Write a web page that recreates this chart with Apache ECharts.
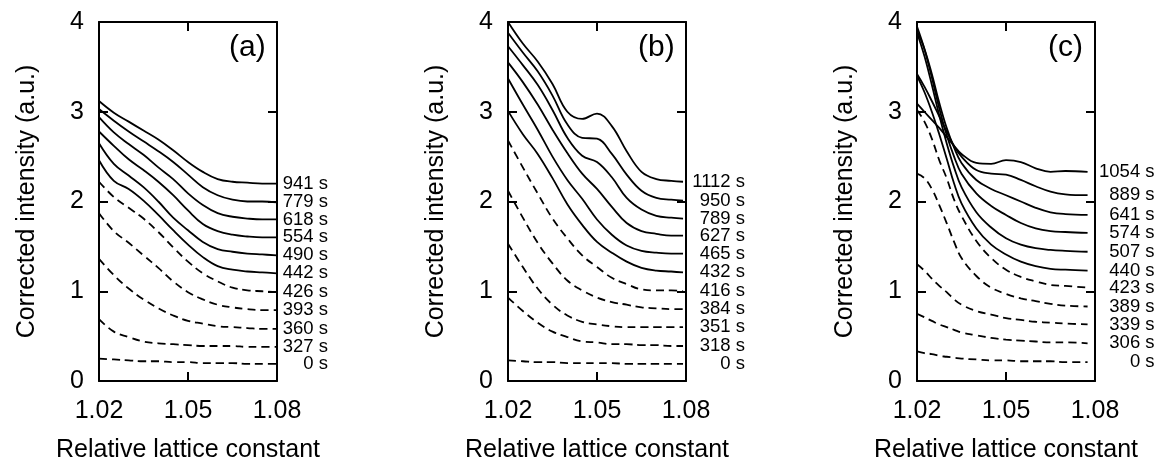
<!DOCTYPE html>
<html>
<head>
<meta charset="utf-8">
<script src="https://cdn.jsdelivr.net/npm/echarts@6/dist/echarts.min.js"></script>
<style>html,body{margin:0;background:#fff}#main{width:1159px;height:460px}</style>
</head>
<body>
<div id="main"></div>
<script>
// x samples of each panel (relative lattice constant)
const xA=[1.020,1.025,1.030,1.035,1.040,1.045,1.050,1.055,1.060,1.065,1.070,1.075,1.080];
const xB=[1.020,1.025,1.030,1.035,1.040,1.045,1.050,1.055,1.060,1.065,1.070,1.075,1.079];
const xC=[1.020,1.0225,1.025,1.0275,1.030,1.0325,1.035,1.040,1.045,1.050,1.055,1.060,1.065,1.070,1.0775];

// labels of curves, top to bottom
const timesA=['941 s','779 s','618 s','554 s','490 s','442 s','426 s','393 s','360 s','327 s','0 s'];
const timesB=['1112 s','950 s','789 s','627 s','465 s','432 s','416 s','384 s','351 s','318 s','0 s'];
const timesC=['1054 s','889 s','641 s','574 s','507 s','440 s','423 s','389 s','339 s','306 s','0 s'];

// corrected intensity, one row per curve
const curvesA=[
  [3.12,2.99,2.89,2.79,2.69,2.57,2.44,2.33,2.25,2.22,2.21,2.20,2.20],
  [3.03,2.90,2.78,2.67,2.56,2.44,2.30,2.16,2.07,2.02,2.00,2.00,1.99],
  [2.94,2.77,2.64,2.52,2.38,2.25,2.09,1.96,1.87,1.83,1.81,1.80,1.80],
  [2.78,2.62,2.47,2.35,2.22,2.07,1.90,1.75,1.67,1.63,1.61,1.60,1.60],
  [2.65,2.42,2.29,2.16,2.00,1.82,1.68,1.55,1.47,1.44,1.42,1.41,1.40],
  [2.46,2.23,2.14,2.01,1.85,1.68,1.52,1.38,1.28,1.24,1.22,1.21,1.20],
  [2.22,2.05,1.93,1.81,1.66,1.49,1.33,1.20,1.11,1.04,1.01,1.00,0.99],
  [1.87,1.67,1.54,1.40,1.26,1.11,0.99,0.91,0.85,0.82,0.80,0.79,0.79],
  [1.36,1.18,1.03,0.91,0.81,0.73,0.67,0.64,0.61,0.60,0.59,0.58,0.58],
  [0.69,0.55,0.49,0.44,0.42,0.41,0.40,0.39,0.39,0.39,0.38,0.38,0.38],
  [0.25,0.24,0.23,0.22,0.22,0.21,0.21,0.20,0.20,0.20,0.19,0.19,0.19]
];
const curvesB=[
  [4.00,3.76,3.56,3.31,3.00,2.92,2.98,2.84,2.56,2.33,2.25,2.23,2.22],
  [3.88,3.66,3.45,3.18,2.86,2.71,2.70,2.53,2.30,2.12,2.04,2.02,2.01],
  [3.73,3.52,3.30,3.02,2.71,2.51,2.44,2.27,2.04,1.91,1.84,1.82,1.81],
  [3.55,3.33,3.08,2.80,2.54,2.31,2.14,1.94,1.76,1.67,1.64,1.62,1.62],
  [3.37,3.08,2.80,2.50,2.24,2.03,1.80,1.63,1.51,1.45,1.43,1.42,1.42],
  [3.01,2.75,2.53,2.26,1.97,1.74,1.55,1.43,1.33,1.26,1.23,1.22,1.21],
  [2.68,2.38,2.09,1.81,1.59,1.40,1.27,1.15,1.08,1.02,1.01,1.01,1.00],
  [2.12,1.82,1.54,1.31,1.12,1.01,0.93,0.88,0.85,0.82,0.81,0.80,0.80],
  [1.53,1.27,1.03,0.85,0.73,0.66,0.63,0.61,0.60,0.60,0.60,0.60,0.60],
  [0.93,0.78,0.65,0.55,0.49,0.44,0.43,0.41,0.41,0.40,0.40,0.39,0.39],
  [0.23,0.22,0.21,0.21,0.20,0.20,0.20,0.20,0.19,0.19,0.19,0.19,0.19]
];
const curvesC=[
  [3.09,3.00,2.91,2.82,2.72,2.62,2.53,2.43,2.42,2.46,2.44,2.37,2.33,2.34,2.33],
  [3.42,3.28,3.12,2.95,2.78,2.62,2.50,2.35,2.31,2.30,2.24,2.17,2.11,2.08,2.07],
  [3.90,3.70,3.42,3.10,2.82,2.60,2.43,2.24,2.14,2.07,2.00,1.93,1.88,1.86,1.85],
  [3.95,3.70,3.38,3.04,2.74,2.50,2.31,2.09,1.95,1.85,1.76,1.70,1.67,1.66,1.65],
  [3.88,3.62,3.30,2.96,2.65,2.38,2.16,1.88,1.71,1.59,1.52,1.48,1.46,1.45,1.44],
  [3.40,3.22,3.00,2.75,2.48,2.20,1.98,1.70,1.52,1.41,1.33,1.28,1.25,1.24,1.23],
  [3.02,2.89,2.70,2.46,2.26,2.02,1.84,1.56,1.37,1.24,1.16,1.11,1.07,1.06,1.04],
  [2.31,2.26,2.14,1.96,1.76,1.55,1.37,1.17,1.04,0.97,0.92,0.89,0.86,0.84,0.83],
  [1.30,1.23,1.14,1.06,0.99,0.91,0.85,0.78,0.74,0.70,0.68,0.66,0.65,0.64,0.63],
  [0.75,0.71,0.67,0.63,0.60,0.57,0.54,0.51,0.48,0.46,0.45,0.44,0.43,0.43,0.42],
  [0.33,0.31,0.30,0.28,0.27,0.26,0.25,0.24,0.23,0.23,0.22,0.22,0.22,0.21,0.21]
];

const FONT='"Liberation Sans", Arial, Helvetica, sans-serif';
const panels=[
  {x:xA,curves:curvesA,times:timesA,left:99,dist:51,tag:'(a)',tagLeft:229},
  {x:xB,curves:curvesB,times:timesB,left:508,dist:62,tag:'(b)',tagLeft:638},
  {x:xC,curves:curvesC,times:timesC,left:917,dist:67,tag:'(c)',tagLeft:1048}
];
const SOLID=6; // first six curves of each panel are solid

let chart=echarts.init(document.getElementById('main'));
let grid=[],xAxis=[],yAxis=[],series=[],title=[];
const black={color:'#000',width:2};

panels.forEach(function(p,i){
  // outerBoundsMode none: keep the grid where it is, labels may go near the edge
  grid.push({left:p.left,top:22,width:178,height:359,outerBoundsMode:'none'});
  title.push({text:p.tag,left:p.tagLeft,top:33,padding:0,
    textStyle:{fontSize:30,fontWeight:'normal',color:'#000',fontFamily:FONT}});
  // bottom and top frame
  xAxis.push({
    gridIndex:i,type:'value',min:1.02,max:1.08,interval:0.03,
    axisLine:{onZero:false,lineStyle:black},
    axisTick:{inside:true,length:9,lineStyle:black},
    axisLabel:{margin:18,fontSize:25,color:'#000',fontFamily:FONT,
      formatter:function(v){return v.toFixed(2);}},
    splitLine:{show:false},
    name:'Relative lattice constant',nameLocation:'middle',nameGap:57,
    nameTextStyle:{fontSize:25,color:'#000',fontFamily:FONT}
  });
  xAxis.push({
    gridIndex:i,type:'value',position:'top',min:1.02,max:1.08,interval:0.03,
    axisLine:{onZero:false,lineStyle:black},
    axisTick:{inside:true,length:9,lineStyle:black},
    axisLabel:{show:false},splitLine:{show:false}
  });
  // left and right frame
  yAxis.push({
    gridIndex:i,type:'value',min:0,max:4,interval:1,
    axisLine:{show:true,onZero:false,lineStyle:black},
    axisTick:{show:true,inside:true,length:9,lineStyle:black},
    axisLabel:{margin:15,fontSize:25,color:'#000',fontFamily:FONT},
    splitLine:{show:false},
    name:'Corrected intensity (a.u.)',nameLocation:'middle',nameGap:59,
    nameTextStyle:{fontSize:25,color:'#000',fontFamily:FONT}
  });
  yAxis.push({
    gridIndex:i,type:'value',position:'right',min:0,max:4,interval:1,
    axisLine:{show:true,onZero:false,lineStyle:black},
    axisTick:{show:true,inside:true,length:9,lineStyle:black},
    axisLabel:{show:false},splitLine:{show:false}
  });

  p.curves.forEach(function(vals,j){
    series.push({
      name:p.times[j],
      type:'line',
      xAxisIndex:2*i,
      yAxisIndex:2*i,
      data:p.x.map(function(xv,k){return [xv,vals[k]];}),
      smooth:0.4,
      symbol:'none',
      silent:true,
      lineStyle:{color:'#000',width:1.8,type:j<SOLID?'solid':[8,5]},
      endLabel:{
        show:true,
        formatter:function(param){return param.seriesName;},
        align:'right',
        distance:p.dist,
        padding:[5,0,0,0],
        fontSize:18.5,
        color:'#000',
        fontFamily:FONT
      }
    });
  });
});

chart.setOption({
  backgroundColor:'#fff',
  animation:false,
  title:title,
  grid:grid,
  xAxis:xAxis,
  yAxis:yAxis,
  series:series
});
</script>
</body>
</html>
